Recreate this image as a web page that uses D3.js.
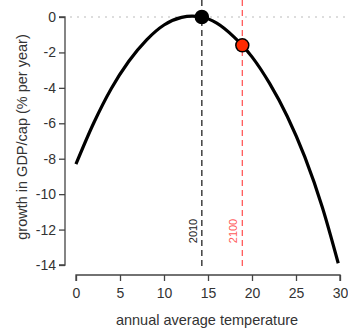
<!DOCTYPE html>
<html><head><meta charset="utf-8">
<script src="https://cdn.jsdelivr.net/npm/d3@7"></script>
<style>body{margin:0;background:#fff}svg{display:block}text{font-family:"Liberation Sans",Arial,Helvetica,sans-serif}</style>
</head><body>
<script>
const temps = [0, 2, 4, 6, 8, 10, 12, 13.2, 14.3, 16, 18, 18.9, 20, 22, 24, 26, 28, 29.8];
const growth = [-8.3, -6.0, -4.05, -2.5, -1.3, -0.45, -0.02, 0.05, 0, -0.35, -1.15, -1.6, -2.25, -3.75, -5.6, -7.9, -10.75, -13.9];
const xTicks = [0, 5, 10, 15, 20, 25, 30];
const yTicks = [0, -2, -4, -6, -8, -10, -12, -14];
const markYears = ["2010", "2100"];
const markTemps = [14.3, 18.9];
const markGrowth = [0, -1.6];
const markColors = ["#000000", "#ff2a00"];
const lineColors = ["#222222", "#ff5a5a"];

const W = 348, H = 328;
const FONT = '"Liberation Sans",Arial,Helvetica,sans-serif';
const svg = d3.select("body").append("svg").attr("width", W).attr("height", H);
const x = d3.scaleLinear().domain([0, 30]).range([76, 340]);
const y = d3.scaleLinear().domain([0, -14]).range([17, 265]);

// zero dotted line
svg.append("line").attr("x1", 70).attr("x2", W).attr("y1", y(0)).attr("y2", y(0))
  .attr("stroke", "#bbb").attr("stroke-width", 1.2).attr("stroke-dasharray", "2,5");

// vertical dashed lines
markTemps.forEach((t, i) => {
  svg.append("line").attr("x1", x(t)).attr("x2", x(t)).attr("y1", 0).attr("y2", 267)
    .attr("stroke", lineColors[i]).attr("stroke-width", 1.3).attr("stroke-dasharray", "6,4");
  svg.append("text").attr("transform", `translate(${x(t) - 5},${231}) rotate(-90)`)
    .attr("text-anchor", "middle").attr("font-size", 11)
    .attr("fill", i === 0 ? "#222" : "#ff5a5a").text(markYears[i]);
});

// curve
const pts = temps.map((t, i) => [t, growth[i]]);
svg.append("path").datum(pts)
  .attr("d", d3.line().x(d => x(d[0])).y(d => y(d[1])).curve(d3.curveMonotoneX))
  .attr("fill", "none").attr("stroke", "#000").attr("stroke-width", 3.2).attr("stroke-linecap", "butt");

// points
markTemps.forEach((t, i) => {
  svg.append("circle").attr("cx", x(t)).attr("cy", y(markGrowth[i])).attr("r", 6.5)
    .attr("fill", markColors[i]).attr("stroke", "#000").attr("stroke-width", 1.5);
});

// axes
const xAxis = d3.axisBottom(x).tickValues(xTicks).tickSize(6).tickPadding(7);
const gx = svg.append("g").attr("transform", "translate(0,275)").call(xAxis);
const yAxis = d3.axisLeft(y).tickValues(yTicks).tickSize(6).tickPadding(3).tickFormat(d => d === 0 ? "0" : "-" + Math.abs(d));
const gy = svg.append("g").attr("transform", "translate(65,0)").call(yAxis);
[gx, gy].forEach(g => {
  g.select(".domain").attr("stroke", "#444").attr("stroke-width", 1.3);
  g.selectAll(".tick line").attr("stroke", "#444").attr("stroke-width", 1.3);
  g.selectAll(".tick text").attr("font-size", 14).attr("fill", "#333").attr("font-family", FONT);
});
gx.select(".domain").attr("d", `M${x(0)},6V0H${x(30)}V6`);
gy.select(".domain").attr("d", `M-6,${y(0)}H0V${y(-14)}H-6`);

svg.append("text").attr("x", 207).attr("y", 325).attr("text-anchor", "middle")
  .attr("font-size", 14.5).attr("fill", "#333").text("annual average temperature");
svg.append("text").attr("transform", "translate(27,137) rotate(-90)").attr("text-anchor", "middle")
  .attr("font-size", 14.5).attr("fill", "#333").text("growth in GDP/cap (% per year)");
</script>
</body></html>
